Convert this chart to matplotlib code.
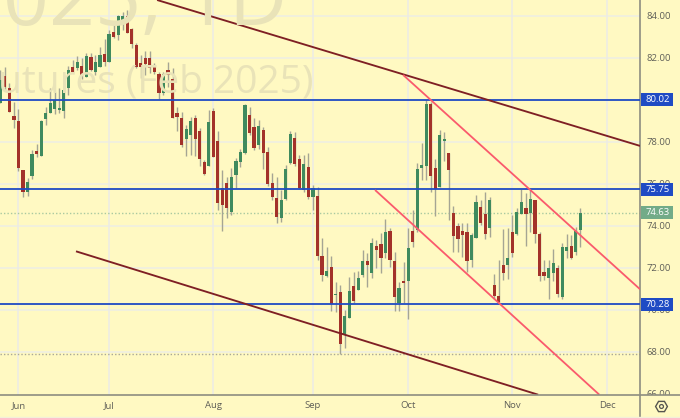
from matplotlib import pyplot as plt
from matplotlib.patches import Rectangle
from matplotlib.transforms import blended_transform_factory

opens = [79.87, 81.16, 80.55, 79.24, 79.0, 76.65, 75.63, 76.38, 77.57, 77.35,
         79.08, 79.39, 79.57, 79.52, 79.49, 80.55, 81.55, 81.5, 81.6, 81.11,
         82.05, 81.32, 81.59, 82.17, 81.79, 83.22, 83.09, 83.73, 84.01, 83.39,
         82.62, 81.78, 81.98, 81.98, 81.66, 81.25, 80.35, 81.44, 80.98, 79.36,
         79.13, 78.14, 78.33, 79.13, 78.51, 77.03, 76.87, 79.47, 78.06, 75.79,
         76.03, 74.65, 76.43, 77.06, 77.49, 79.28, 78.73, 77.86, 78.57, 77.54,
         76.03, 75.32, 74.36, 75.27, 76.98, 78.19, 77.19, 75.71, 76.79, 75.39,
         75.44, 72.59, 71.6, 72.03, 70.73, 70.84, 68.86, 69.63, 71.16, 70.95,
         71.66, 72.35, 71.75, 73.05, 73.14, 72.73, 73.77, 72.35, 70.32, 71.38,
         71.39, 73.77, 73.81, 76.77, 76.87, 79.81, 76.76, 75.86, 78.05, 77.47,
         74.62, 74.0, 73.76, 73.71, 72.38, 73.44, 74.9, 74.57, 73.92, 71.19,
         70.66, 72.14, 72.14, 73.71, 73.62, 74.57, 74.86, 74.62, 75.24, 73.62,
         71.81, 71.52, 71.76, 71.99, 70.62, 72.81, 73.05, 72.76, 73.81]
closes = [80.95, 80.63, 79.44, 79.05, 76.78, 75.63, 76.11, 77.43, 77.41, 79.0,
          79.36, 79.87, 80.0, 79.6, 80.47, 81.43, 81.33, 81.79, 81.19, 82.09,
          81.43, 81.79, 82.14, 81.79, 83.14, 83.01, 84.01, 84.0, 83.2, 82.65,
          81.55, 81.59, 81.71, 81.54, 81.33, 80.35, 81.24, 81.2, 79.13, 79.2,
          77.86, 78.62, 79.0, 78.12, 77.19, 76.46, 78.93, 77.27, 75.11, 75.0,
          74.84, 76.35, 77.11, 77.52, 79.76, 78.44, 77.73, 78.76, 77.49, 76.0,
          75.39, 74.44, 75.24, 76.71, 78.38, 76.93, 75.79, 76.95, 75.39, 75.79,
          72.59, 71.68, 71.84, 70.28, 70.78, 68.38, 69.7, 70.9, 70.43, 71.54,
          72.35, 72.14, 73.17, 72.85, 72.49, 73.73, 72.38, 70.63, 71.03, 71.3,
          72.96, 73.25, 76.71, 76.9, 79.81, 76.38, 75.76, 78.33, 78.14, 76.66,
          73.52, 73.38, 73.57, 72.33, 73.57, 75.16, 74.16, 73.62, 75.24, 70.66,
          70.38, 71.77, 72.47, 72.73, 74.67, 75.14, 74.57, 75.28, 73.62, 71.62,
          71.62, 71.99, 72.24, 70.76, 73.0, 73.0, 72.47, 73.76, 74.62]
highs = [81.43, 81.59, 80.79, 79.92, 79.55, 76.66, 76.27, 77.62, 77.9, 79.05,
         79.68, 80.55, 80.39, 80.55, 80.66, 81.62, 81.9, 82.09, 81.98, 82.22,
         82.25, 82.14, 82.51, 82.89, 83.33, 83.73, 84.05, 84.2, 84.28, 83.41,
         82.73, 82.14, 82.35, 82.35, 81.74, 81.35, 81.35, 81.82, 81.5, 79.68,
         79.44, 78.81, 79.2, 79.28, 78.65, 77.14, 79.52, 79.6, 78.54, 76.66,
         76.35, 76.74, 77.22, 77.65, 79.79, 79.68, 79.13, 79.05, 78.73, 77.78,
         76.5, 76.35, 75.71, 76.9, 78.54, 78.49, 77.38, 77.38, 77.49, 75.95,
         75.84, 73.43, 72.98, 72.55, 71.32, 71.19, 70.01, 71.58, 71.82, 71.86,
         72.85, 72.73, 73.44, 73.33, 73.65, 74.32, 73.89, 72.77, 71.35, 72.3,
         73.89, 74.76, 77.0, 77.97, 80.0, 79.92, 77.19, 78.57, 78.47, 77.47,
         74.95, 74.14, 74.14, 74.14, 73.66, 75.47, 75.24, 75.63, 75.39, 71.71,
         72.38, 73.86, 73.9, 74.52, 74.86, 75.76, 75.57, 75.71, 75.24, 73.71,
         72.38, 72.38, 72.9, 72.14, 73.19, 73.62, 73.57, 73.95, 74.86]
lows = [79.87, 80.47, 79.44, 78.68, 76.63, 75.39, 75.43, 76.24, 77.27, 77.35,
        78.81, 79.36, 79.33, 79.36, 79.13, 80.24, 81.3, 81.43, 80.98, 81.11,
        81.39, 81.19, 81.55, 81.62, 81.79, 82.97, 82.86, 83.33, 83.17, 82.46,
        81.54, 81.03, 81.19, 81.27, 81.24, 80.05, 80.24, 80.63, 79.13, 78.54,
        77.74, 77.35, 77.38, 77.33, 76.87, 76.43, 76.87, 77.27, 74.76, 73.74,
        74.38, 74.51, 75.79, 76.82, 77.43, 78.33, 77.62, 77.65, 76.7, 75.9,
        75.24, 74.13, 74.2, 75.24, 76.93, 76.87, 75.74, 75.63, 75.27, 74.76,
        72.4, 71.36, 71.59, 69.93, 69.9, 67.9, 68.19, 69.63, 70.35, 70.95,
        71.58, 71.08, 71.54, 71.98, 71.75, 72.46, 72.03, 69.96, 69.96, 70.32,
        69.55, 72.98, 73.71, 76.19, 76.19, 75.63, 74.47, 75.86, 77.11, 74.28,
        72.76, 72.76, 72.52, 71.81, 72.05, 73.43, 74.05, 73.38, 73.47, 70.52,
        70.33, 71.43, 71.47, 72.54, 73.57, 74.57, 73.05, 73.71, 73.19, 71.38,
        71.43, 70.52, 71.38, 70.62, 70.52, 72.47, 72.43, 72.62, 73.0]

month_labels = ['Jun', 'Jul', 'Aug', 'Sep', 'Oct', 'Nov', 'Dec']
month_pos = [4, 24, 47, 69, 90, 113, 134]
price_ticks = [84, 82, 78, 76, 74, 72, 70, 68, 66]
grid_prices = [84, 82, 78, 76, 74, 72, 70, 68]

levels = [80.02, 75.75, 70.28]
last_price = 74.63
prev_low = 67.9

# channel lines, (bar, price) at both ends
dark_lines = [([34.6, 141.2], [84.76, 77.81]), ([16.7, 118.7], [72.79, 65.96])]
pink_lines = [([88.9, 141.2], [81.19, 70.98]), ([82.7, 132.2], [75.71, 65.96])]

bg = '#fff9c2'
W, H = 680, 418
px_per_bar = 4.531
x0 = -0.33 / px_per_bar
x1 = (640 - 0.33) / px_per_bar
x2 = (680 - 0.33) / px_per_bar
axis_h = 23.5

plt.rcParams['font.family'] = ['Open Sans', 'DejaVu Sans']

fig = plt.figure(figsize=(6.8, 4.18), dpi=100, facecolor=bg)
ax = fig.add_axes([0, axis_h / H, 640 / W, 1 - axis_h / H], facecolor=bg)
ax.set_xlim(x0, x1)
ax.set_ylim(65.97, 84.76)
for s in ['top', 'left', 'bottom']:
    ax.spines[s].set_visible(False)
ax.spines['right'].set_color('#8d8d80')
ax.spines['right'].set_linewidth(1.2)

# grid
for p in grid_prices:
    ax.axhline(p, color='#eeeee4', lw=1.1, zorder=1)
for m in month_pos:
    ax.axvline(m, color='#ecebe6', lw=1.1, zorder=1)

# big faded symbol text
fig.text(287 / W, 1 - 25 / H, '2025, 1D', ha='right', va='baseline', fontsize=58,
         color='#e9e3b8', family='Open Sans', zorder=0.5)
fig.text(313 / W, 1 - 92 / H, 'Futures (Feb 2025)', ha='right', va='baseline', fontsize=28,
         color='#e9e3b8', family='Open Sans', zorder=0.5)
ax.patch.set_alpha(0)

# candles
for i in range(len(opens)):
    col = '#3f8a5e' if closes[i] >= opens[i] else '#a3322a'
    ax.vlines(i, lows[i], highs[i], color='#a5a594', lw=1.0, zorder=3)
    ax.bar(i, abs(closes[i] - opens[i]), bottom=min(opens[i], closes[i]), width=0.7,
           color=col, lw=0, zorder=4)

# levels and trend lines
for lv in levels:
    ax.axhline(lv, color='#1f4bc4', lw=1.3, zorder=5)
ax.axhline(last_price, color='#a9c9a0', lw=1, ls=(0, (1, 1.5)), zorder=2)
ax.axhline(prev_low, color='#a8a898', lw=1, ls=(0, (1, 1.5)), zorder=2)
for xs, ys in dark_lines:
    ax.plot(xs, ys, color='#7e1f24', lw=1.35, zorder=6, solid_capstyle='butt')
for xs, ys in pink_lines:
    ax.plot(xs, ys, color='#fa5a6c', lw=1.3, zorder=6, solid_capstyle='butt')

# price scale
ax.yaxis.tick_right()
ax.set_yticks(price_ticks)
ax.set_yticklabels(['%.2f' % p for p in price_ticks])
ax.tick_params(axis='y', length=0, pad=4.7, labelsize=6.8, labelcolor='#5f5f58')
ax.set_xticks([])

trans = blended_transform_factory(ax.transAxes, ax.transData)
box_w = 32 / 640
for lv, c in [(80.02, '#1f4bc4'), (75.75, '#1f4bc4'), (70.28, '#1f4bc4'), (last_price, '#72ab88')]:
    ax.add_patch(Rectangle((1.001, lv - 6.5 / 21), box_w, 13 / 21, transform=trans, color=c,
                           clip_on=False, lw=0, zorder=7))
    ax.text(1 + 17.4 / 640, lv - 0.01, '%.2f' % lv, transform=trans, ha='center', va='center',
            color='white', fontsize=6.8, clip_on=False, zorder=8)

# time scale, sits above the price axes so it cuts the 66.00 label
ax_t = fig.add_axes([0, 0, 1, axis_h / H], facecolor=bg, zorder=5)
ax_t.set_xlim(x0, x2)
ax_t.set_ylim(0, axis_h)
for s in ['left', 'right', 'bottom']:
    ax_t.spines[s].set_visible(False)
ax_t.spines['top'].set_color('#8d8d80')
ax_t.spines['top'].set_linewidth(1.2)
ax_t.set_yticks([])
ax_t.set_xticks(month_pos)
ax_t.set_xticklabels(month_labels)
ax_t.tick_params(axis='x', direction='in', length=0, pad=-12.5, labelsize=6.8, labelcolor='#5f5f58')
ax_t.axvline(x1, color='#8d8d80', lw=1.2)
ax_t.axhline(0.6, color='#f3f0d8', lw=1)
ax_t.plot([(660.5 - 0.33) / px_per_bar], [12], marker='H', ms=8.5, mfc='none', mec='#55554f', mew=1)
ax_t.plot([(660.5 - 0.33) / px_per_bar], [12], marker='o', ms=2.8, mfc='none', mec='#55554f', mew=0.9)

plt.savefig('out.png', dpi=100, facecolor=bg)
